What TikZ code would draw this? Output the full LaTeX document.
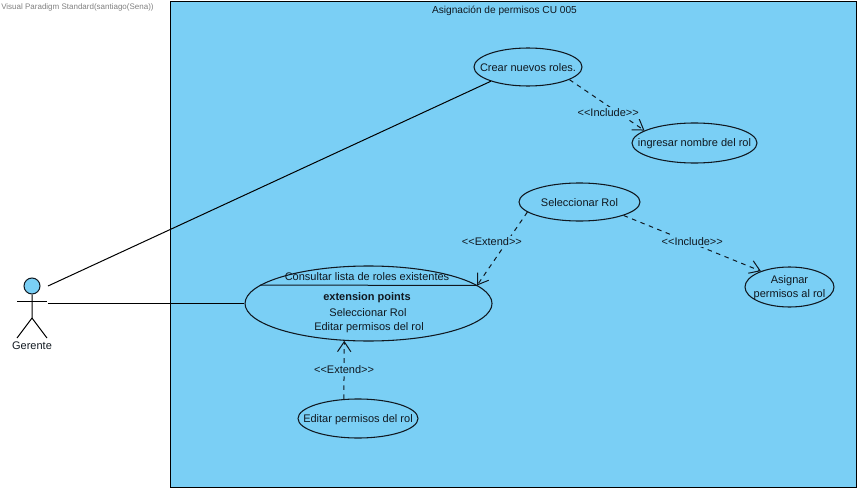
\documentclass[tikz,border=0pt]{standalone}
\usepackage{fontspec}
\setmainfont{Liberation Sans}
\usetikzlibrary{arrows.meta,shapes.geometric}
\definecolor{boxblue}{HTML}{7ACFF5}
\definecolor{linedark}{HTML}{101820}
\tikzset{
  txt/.style={inner sep=0pt,text=linedark,font=\fontsize{8.25}{10.5}\selectfont},
  usecase/.style={ellipse,draw=linedark,line width=0.8pt,inner sep=0pt},
  uctext/.style={txt,align=center,yshift=-0.75pt},
  assoc/.style={draw=black,line width=0.75pt},
  dep/.style={draw=linedark,line width=0.75pt,dash pattern=on 3.4pt off 3.4pt,
    -{Straight Barb[length=7.5pt,width=10pt,line width=0.75pt]}},
  deplabel/.style={txt,fill=boxblue,inner sep=1.5pt}
}
\begin{document}
\begin{tikzpicture}[x=0.75pt,y=-0.75pt]
        \useasboundingbox (0,0) rectangle (861,492);
        \node (stamp) [txt,text=gray,anchor=west,font=\fontsize{6}{8}\selectfont] at (1,7) {Visual Paradigm Standard(santiago(Sena))};
        \node (system) [draw=black,line width=0.75pt,fill=boxblue,minimum width=686*0.75pt,minimum height=485*0.75pt,inner sep=0pt] at (513,244.5) {};
        \node (title) [txt,font=\fontsize{7.6}{10}\selectfont] at (504.5,11) {Asignación de permisos CU 005};
        %% actor
        \node (head) [circle,draw=linedark,line width=0.75pt,fill=boxblue,minimum size=16*0.75pt,inner sep=0pt] at (32,286) {};
        \coordinate (hip)    at (32,318);
        \coordinate (armL)   at (17,301);
        \coordinate (armR)   at (47,301);
        \coordinate (footL)  at (17,338);
        \coordinate (footR)  at (47,338);
        \coordinate (linkA)  at (48,286);
        \coordinate (linkB)  at (48,303.5);
        \node (gerente) [txt] at (32,345.5) {Gerente};
        \draw[assoc] (head) -- (hip) -- (footL);
        \draw[assoc] (hip) -- (footR);
        \draw[assoc] (armL) -- (armR);
        %% use cases
        \node (crear)     [usecase,minimum width=108*0.75pt,minimum height=38*0.75pt,label={[uctext]center:Crear nuevos roles.}] at (528,67) {};
        \node (ingresar)  [usecase,minimum width=125*0.75pt,minimum height=40*0.75pt,label={[uctext]center:ingresar nombre del rol}] at (694.5,143) {};
        \node (selrol)    [usecase,minimum width=121*0.75pt,minimum height=38*0.75pt,label={[uctext]center:Seleccionar Rol}] at (579.5,202) {};
        \node (asignar)   [usecase,minimum width=89*0.75pt,minimum height=40*0.75pt,label={[uctext]center:Asignar\\permisos al rol}] at (789.5,287) {};
        \node (consultar) [usecase,minimum width=247*0.75pt,minimum height=75*0.75pt] at (368.5,303.5) {};
        \node (editar)    [usecase,minimum width=120*0.75pt,minimum height=39*0.75pt,label={[uctext]center:Editar permisos del rol}] at (358,418.5) {};
        \coordinate (chordL) at (260,285);
        \coordinate (chordR) at (477,285.5);
        \draw[draw=linedark,line width=0.75pt] (chordL) -- (chordR);
        \node (consultarT) [txt] at (367,277) {Consultar lista de roles existentes};
        \node (extpoints)  [txt,font=\fontsize{8.25}{10.5}\selectfont\bfseries] at (367,298) {extension points};
        \node (extsel)     [txt] at (368,313) {Seleccionar Rol};
        \node (exteditar)  [txt] at (369,328) {Editar permisos del rol};
        %% connectors
        \draw[assoc] (linkA) -- (crear.201);
        \draw[assoc] (linkB) -- (consultar);
        \draw[dep] (crear.-17) -- node[deplabel,pos=0.65,xshift=-7.5pt] {<{}<Include>{}>} (ingresar.166);
        \draw[dep] (selrol.-17) -- node[deplabel,pos=0.5,yshift=1.5pt] {<{}<Include>{}>} (asignar.151);
        \draw[dep] (selrol.191) -- node[deplabel,pos=0.405,xshift=-11.25pt] {<{}<Extend>{}>} (chordR);
        \draw[dep] (editar.126.4) -- node[deplabel,pos=0.5] {<{}<Extend>{}>} (consultar.-123.6);
      \end{tikzpicture}
\end{document}
